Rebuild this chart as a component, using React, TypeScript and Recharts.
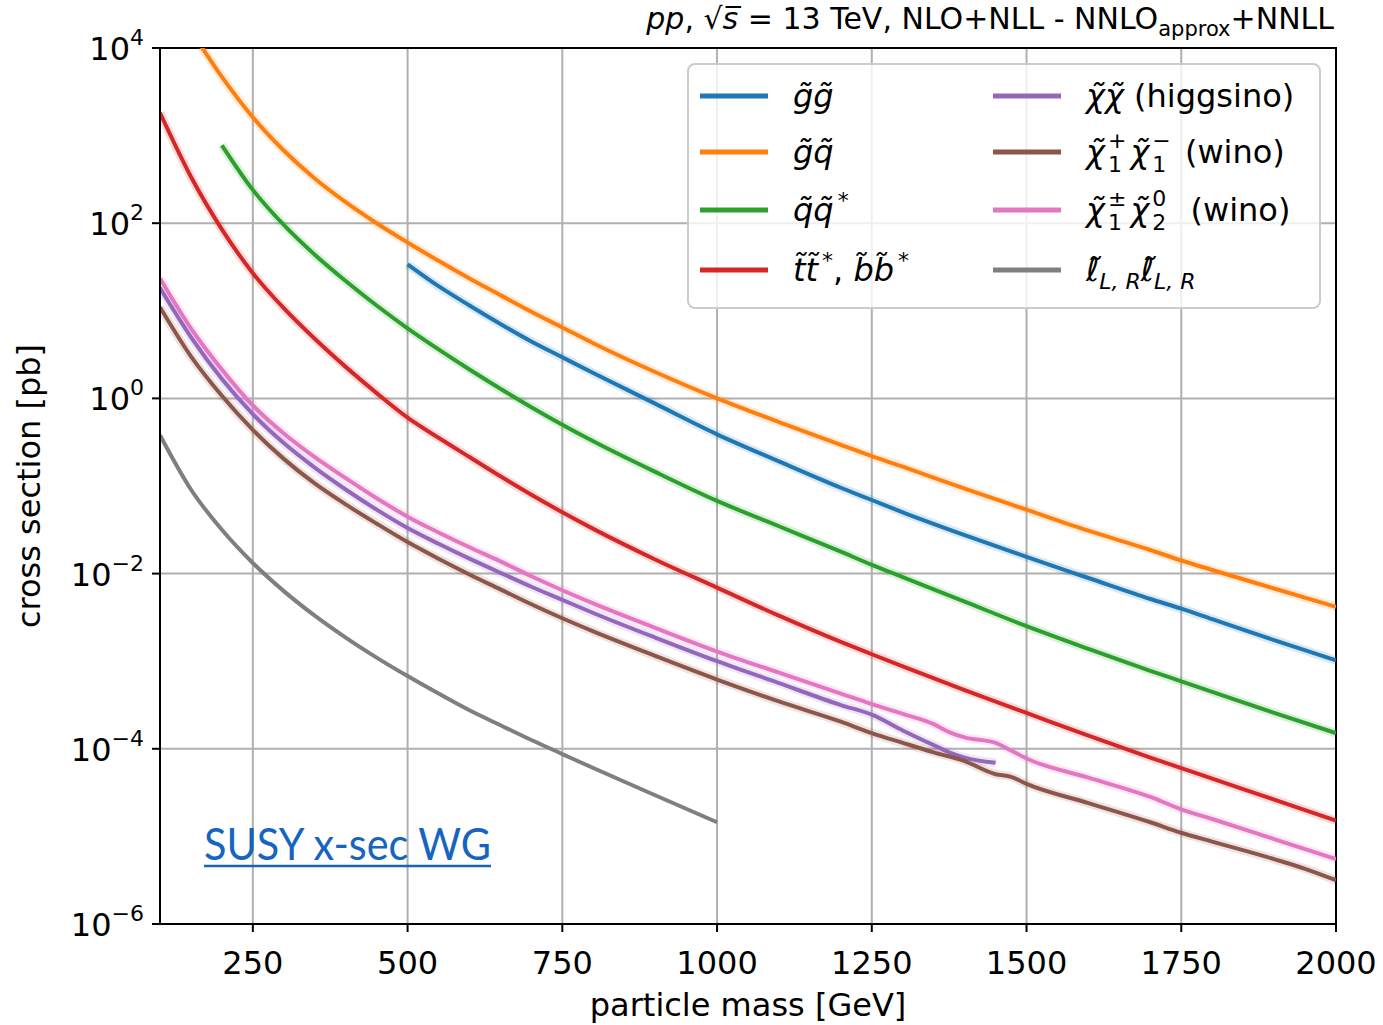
import React from "react";
import { CartesianGrid, Line, LineChart, ReferenceArea, XAxis, YAxis } from "recharts";

// masses in GeV (shared x grid, null = not read / no point)
const masses = [100, 150, 200, 250, 300, 350, 400, 450, 500, 550, 600, 650, 700, 750, 800, 900, 1000, 1100, 1200, 1250, 1300, 1350, 1375, 1400, 1450, 1475, 1500, 1600, 1700, 1750, 1800, 1900, 1950, 2000];

// cross sections in pb
const gluinoPair = [null, null, null, null, null, null, null, null, 33.9, 19.1, 11.5, 7.08, 4.47, 2.95, 1.95, 0.871, 0.389, 0.191, 0.0955, 0.0692, 0.0501, null, null, 0.0275, null, null, 0.0155, 0.00891, 0.00513, 0.00398, 0.00302, 0.00174, null, 0.00102];
const gluinoSquark = [null, 1.58e4, 4.68e3, 1.62e3, 676, 324, 174, 100, 60.3, 37.2, 23.4, 15.1, 9.77, 6.46, 4.27, 2.0, 1.0, 0.537, 0.295, 0.219, 0.166, null, null, 0.0933, null, null, 0.0537, 0.0309, 0.0186, 0.0141, 0.011, 0.00676, null, 0.00417];
const squarkPair = [null, null, 776, 240, 95.5, 43.7, 21.9, 11.5, 6.31, 3.63, 2.14, 1.29, 0.794, 0.501, 0.324, 0.145, 0.0676, 0.0347, 0.0178, 0.0126, 0.00912, null, null, 0.00479, null, null, 0.00251, 0.00138, 7.76e-4, 5.89e-4, 4.47e-4, 2.57e-4, null, 1.51e-4];
const stopPair = [1.82e3, 339, 85.1, 26.9, 10.7, 4.79, 2.29, 1.15, 0.603, 0.355, 0.214, 0.129, 0.0794, 0.0501, 0.0324, 0.0145, 0.00692, 0.00331, 0.00166, 0.0012, 8.71e-4, null, null, 4.68e-4, null, null, 2.57e-4, 1.41e-4, 7.94e-5, 6.03e-5, 4.57e-5, 2.63e-5, null, 1.51e-5];
const higgsino = [18.2, 5.01, 1.66, 0.661, 0.309, 0.162, 0.0912, 0.0537, 0.0331, 0.0219, 0.0148, 0.0102, 0.00708, 0.00501, 0.00355, 0.00186, 0.001, 5.62e-4, 3.16e-4, 2.45e-4, 1.62e-4, 1.1e-4, 9.12e-5, 7.94e-5, 6.92e-5, null, null, null, null, null, null, null, null, null];
const winoC1C1 = [11.0, 3.02, 1.07, 0.437, 0.204, 0.107, 0.0617, 0.0372, 0.0229, 0.0148, 0.00977, 0.00661, 0.00447, 0.00309, 0.00219, 0.00115, 6.17e-4, 3.47e-4, 2.04e-4, 1.51e-4, 1.17e-4, 9.12e-5, null, 7.24e-5, 5.13e-5, 4.79e-5, 3.98e-5, 2.4e-5, 1.45e-5, 1.1e-5, 8.71e-6, 5.5e-6, 4.27e-6, 3.16e-6];
const winoC1N2 = [23.4, 6.31, 2.14, 0.832, 0.398, 0.214, 0.123, 0.0724, 0.0447, 0.0295, 0.02, 0.0138, 0.00933, 0.00646, 0.00457, 0.0024, 0.00129, 7.41e-4, 4.27e-4, 3.24e-4, 2.51e-4, 1.91e-4, 1.55e-4, 1.35e-4, 1.17e-4, 9.55e-5, 7.76e-5, 4.68e-5, 2.82e-5, 2.04e-5, 1.58e-5, 9.33e-6, null, 5.5e-6];
const sleptons = [0.38, 0.0912, 0.0316, 0.0132, 0.00631, 0.00331, 0.00186, 0.0011, 6.76e-4, 4.27e-4, 2.75e-4, 1.86e-4, 1.26e-4, 8.71e-5, 6.03e-5, 2.95e-5, 1.45e-5, null, null, null, null, null, null, null, null, null, null, null, null, null, null, null, null, null];

const xTicks = [250, 500, 750, 1000, 1250, 1500, 1750, 2000];
const yTicks = [1e-6, 1e-4, 1e-2, 1, 1e2, 1e4];

const data = masses.map((m, i) => ({
  m,
  gg: gluinoPair[i],
  gq: gluinoSquark[i],
  sq: squarkPair[i],
  stop: stopPair[i],
  hino: higgsino[i],
  c1c1: winoC1C1[i],
  c1n2: winoC1N2[i],
  slep: sleptons[i],
}));

const series = [
  { key: "gg", color: "#1f77b4", band: true },
  { key: "gq", color: "#ff7f0e", band: true },
  { key: "sq", color: "#2ca02c", band: true },
  { key: "stop", color: "#d62728", band: true },
  { key: "hino", color: "#9467bd", band: true },
  { key: "c1c1", color: "#8c564b", band: true },
  { key: "c1n2", color: "#e377c2", band: true },
  { key: "slep", color: "#7f7f7f", band: false },
];

const FONT = '"DejaVu Sans", sans-serif';
const it = { fontStyle: "italic" as const };
const CHI = "\u03c7\u0303";

const XTick = ({ x, y, payload }: any) => (
  <text x={x} y={y + 40} textAnchor="middle" fontSize={32} fontFamily={FONT} fill="#000">
    {payload.value}
  </text>
);

const YTick = ({ x, y, payload }: any) => {
  const e = Math.round(Math.log10(payload.value));
  return (
    <text x={x - 6} y={y + 12} textAnchor="end" fontSize={32} fontFamily={FONT} fill="#000">
      10
      <tspan dy={-15} fontSize={22}>{e < 0 ? `\u2212${-e}` : `${e}`}</tspan>
    </text>
  );
};

function legendLabel(key: string) {
  switch (key) {
    case "gg":
      return <tspan style={it}>g{"\u0303"}g{"\u0303"}</tspan>;
    case "gq":
      return <tspan style={it}>g{"\u0303"}q{"\u0303"}</tspan>;
    case "sq":
      return (
        <>
          <tspan style={it}>q{"\u0303"}q{"\u0303"}</tspan>
          <tspan dx={4} dy={-13} fontSize={22}>*</tspan>
        </>
      );
    case "stop":
      return (
        <>
          <tspan style={it}>t{"\u0303"}t{"\u0303"}</tspan>
          <tspan dx={4} dy={-13} fontSize={22}>*</tspan>
          <tspan dy={13}>{", "}</tspan>
          <tspan style={it}>b{"\u0303"}b{"\u0303"}</tspan>
          <tspan dx={4} dy={-13} fontSize={22}>*</tspan>
        </>
      );
    case "hino":
      return (
        <>
          <tspan style={it}>{CHI + CHI}</tspan>
          <tspan>{" (higgsino)"}</tspan>
        </>
      );
    case "c1c1":
      return (
        <>
          <tspan style={it}>{CHI}</tspan>
          <tspan dx={3} dy={9} fontSize={22}>1</tspan>
          <tspan dx={-14} dy={-24} fontSize={22}>+</tspan>
          <tspan dx={4} dy={15} style={it}>{CHI}</tspan>
          <tspan dx={3} dy={9} fontSize={22}>1</tspan>
          <tspan dx={-14} dy={-24} fontSize={22}>{"\u2212"}</tspan>
          <tspan dx={4} dy={15}>{" (wino)"}</tspan>
        </>
      );
    case "c1n2":
      return (
        <>
          <tspan style={it}>{CHI}</tspan>
          <tspan dx={3} dy={9} fontSize={22}>1</tspan>
          <tspan dx={-14} dy={-24} fontSize={22}>{"\u00b1"}</tspan>
          <tspan dx={4} dy={15} style={it}>{CHI}</tspan>
          <tspan dx={3} dy={9} fontSize={22}>2</tspan>
          <tspan dx={-14} dy={-24} fontSize={22}>0</tspan>
          <tspan dx={14} dy={15}>{" (wino)"}</tspan>
        </>
      );
    default:
      return (
        <>
          <tspan style={it}>{"\u2113\u0303"}</tspan>
          <tspan dy={8} fontSize={22} style={it}>L, R</tspan>
          <tspan dy={-8} style={it}>{"\u2113\u0303"}</tspan>
          <tspan dy={8} fontSize={22} style={it}>L, R</tspan>
        </>
      );
  }
}

const legendOrder = [
  ["gg", "gq", "sq", "stop"],
  ["hino", "c1c1", "c1n2", "slep"],
];
const rowY = [96, 152, 210, 270];
const colX = [700, 993];

function Overlay() {
  const colorOf = (k: string) => series.find((s) => s.key === k)!.color;
  return (
    <svg width={1383} height={1025} style={{ position: "absolute", left: 0, top: 0, pointerEvents: "none" }} fontFamily={FONT}>
      {/* title */}
      <text x={1334} y={29} textAnchor="end" fontSize={30} fill="#000">
        <tspan style={it}>pp</tspan>
        <tspan>{", \u221a"}</tspan>
        <tspan style={it}>{"s\u0305"}</tspan>
        <tspan>{" = 13 TeV, NLO+NLL - NNLO"}</tspan>
        <tspan dy={7} fontSize={21}>approx</tspan>
        <tspan dy={-7}>+NNLL</tspan>
      </text>
      {/* axis labels */}
      <text x={748} y={1016} textAnchor="middle" fontSize={32} fill="#000">particle mass [GeV]</text>
      <text x={40} y={486} textAnchor="middle" fontSize={32} fill="#000" transform="rotate(-90 40 486)">cross section [pb]</text>
      {/* legend */}
      <rect x={688} y={64} width={632} height={244} rx={7} fill="#fff" fillOpacity={0.8} stroke="#cccccc" strokeWidth={2} />
      {legendOrder.map((col, c) =>
        col.map((k, r) => (
          <g key={k}>
            <line x1={colX[c]} x2={colX[c] + 68} y1={rowY[r]} y2={rowY[r]} stroke={colorOf(k)} strokeWidth={5} />
            <text x={colX[c] + 93} y={rowY[r] + 11} fontSize={32} fill="#000">
              {legendLabel(k)}
            </text>
          </g>
        ))
      )}
      {/* working group tag */}
      <text x={204} y={860} fontSize={45} fill="#1565c0" fontFamily='Lato, "Open Sans", sans-serif' textLength={287} lengthAdjust="spacingAndGlyphs">
        SUSY x-sec WG
      </text>
      <line x1={204} x2={491} y1={866} y2={866} stroke="#1565c0" strokeWidth={2.5} />
    </svg>
  );
}

export default function App() {
  return (
    <div style={{ position: "absolute", left: 0, top: 0, width: 1383, height: 1025, background: "#fff" }}>
      <LineChart width={1383} height={1025} data={data} margin={{ top: 48, right: 47, bottom: 41, left: 60 }}>
        <CartesianGrid stroke="#b0b0b0" strokeWidth={2} />
        <XAxis
          dataKey="m"
          type="number"
          domain={[100, 2000]}
          ticks={xTicks}
          allowDataOverflow
          height={60}
          tickSize={8}
          tick={<XTick />}
          axisLine={{ stroke: "#000", strokeWidth: 2 }}
          tickLine={{ stroke: "#000", strokeWidth: 2 }}
        />
        <YAxis
          type="number"
          scale="log"
          domain={[1e-6, 1e4]}
          ticks={yTicks}
          allowDataOverflow
          width={100}
          tickSize={8}
          tick={<YTick />}
          axisLine={{ stroke: "#000", strokeWidth: 2 }}
          tickLine={{ stroke: "#000", strokeWidth: 2 }}
        />
        {series
          .filter((s) => s.band)
          .map((s) => (
            <Line
              key={s.key + "-band"}
              dataKey={s.key}
              type="monotone"
              stroke={s.color}
              strokeWidth={9}
              strokeOpacity={0.16}
              dot={false}
              activeDot={false}
              connectNulls
              isAnimationActive={false}
            />
          ))}
        {series.map((s) => (
          <Line
            key={s.key}
            dataKey={s.key}
            type="monotone"
            stroke={s.color}
            strokeWidth={4}
            dot={false}
            activeDot={false}
            connectNulls
            isAnimationActive={false}
          />
        ))}
        <ReferenceArea x1={100} x2={2000} y1={1e-6} y2={1e4} fill="none" stroke="#000" strokeWidth={2} />
      </LineChart>
      <Overlay />
    </div>
  );
}
